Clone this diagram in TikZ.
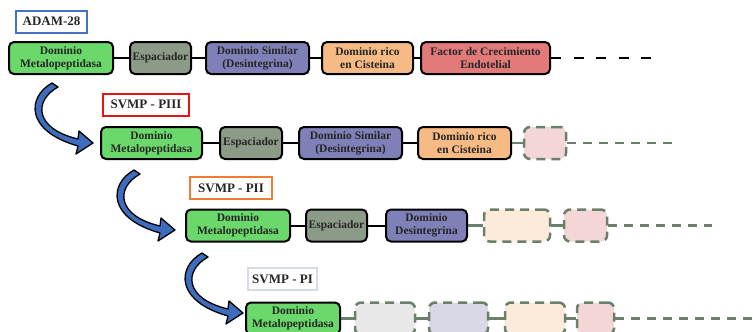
\documentclass[tikz,border=0pt]{standalone}
\usepackage{fontspec}
\setmainfont{Liberation Serif}
\usepackage{color}

\definecolor{metalo}{RGB}{106,216,106}
\definecolor{espac}{RGB}{140,155,135}
\definecolor{desint}{RGB}{128,128,184}
\definecolor{cist}{RGB}{246,186,132}
\definecolor{factor}{RGB}{226,122,122}
\definecolor{ghostline}{RGB}{107,128,107}
\definecolor{ghostpink}{RGB}{245,214,214}
\definecolor{ghostcream}{RGB}{252,235,218}
\definecolor{ghostgray}{RGB}{232,232,232}
\definecolor{ghostlav}{RGB}{216,216,230}
\definecolor{tagadam}{RGB}{68,114,196}
\definecolor{tagpiii}{RGB}{232,20,20}
\definecolor{tagpii}{RGB}{237,125,49}
\definecolor{tagpi}{RGB}{214,220,229}
\definecolor{arrowblue}{RGB}{62,108,190}

\begin{document}
\begin{tikzpicture}[x=1pt, y=-1pt]
\tikzset{dom/.style = {rectangle, rounded corners=5pt, draw=black, line width=2pt, align=center, inner sep=2pt, minimum height=32pt, font=\fontsize{11.5}{13}\selectfont\bfseries, text=black!85}}
\tikzset{ghost/.style = {rectangle, rounded corners=6pt, draw=ghostline, line width=2.5pt, dash pattern=on 9pt off 6pt, minimum height=32pt}}
\tikzset{tag/.style = {rectangle, line width=2pt, minimum height=22pt, inner sep=2pt, font=\fontsize{13}{15}\selectfont\bfseries, text=black!85}}
\tikzset{link/.style = {line width=2pt}}
\tikzset{ghostlink/.style = {line width=2.5pt, draw=ghostline}}
\tikzset{tail/.style = {line width=2.5pt, dash pattern=on 10pt off 12.5pt}}
\tikzset{ghosttail/.style = {line width=2.5pt, draw=ghostline, dash pattern=on 9pt off 7pt}}
\tikzset{curved/.style = {fill=arrowblue, draw=black, line width=1.3pt, line join=round}}

\clip (0,0) rectangle (753,332);

% ADAM-28
\node[tag, draw=tagadam, minimum width=71pt] (adam) at (51.5,21.5) {ADAM-28};
\node[dom, fill=metalo, minimum width=104pt] (r1a) at (61,58) {Dominio\\Metalopeptidasa};
\node[dom, fill=espac, minimum width=61pt] (r1b) at (160.5,58) {Espaciador};
\node[dom, fill=desint, minimum width=103pt] (r1c) at (257.5,58) {Dominio Similar\\(Desintegrina)};
\node[dom, fill=cist, minimum width=91pt] (r1d) at (367.5,58) {Dominio rico\\en Cisteina};
\node[dom, fill=factor, minimum width=129pt] (r1e) at (485.5,58) {Factor de Crecimiento\\Endotelial};
\coordinate (end1) at (660,58);

% SVMP - PIII
\node[tag, draw=tagpiii, minimum width=86pt] (piii) at (146,104.5) {SVMP - PIII};
\node[dom, fill=metalo, minimum width=101pt] (r2a) at (151.5,143) {Dominio\\Metalopeptidasa};
\node[dom, fill=espac, minimum width=62pt] (r2b) at (251,143) {Espaciador};
\node[dom, fill=desint, minimum width=103pt] (r2c) at (350.5,143) {Dominio Similar\\(Desintegrina)};
\node[dom, fill=cist, minimum width=93pt] (r2d) at (464.5,143) {Dominio rico\\en Cisteina};
\node[ghost, fill=ghostpink, minimum width=42pt] (r2e) at (545,143) {};
\coordinate (end2) at (672,143);

% SVMP - PII
\node[tag, draw=tagpii, minimum width=82pt] (pii) at (231,188) {SVMP - PII};
\node[dom, fill=metalo, minimum width=104pt] (r3a) at (238,225.5) {Dominio\\Metalopeptidasa};
\node[dom, fill=espac, minimum width=61pt] (r3b) at (336.5,225.5) {Espaciador};
\node[dom, fill=desint, minimum width=81pt] (r3c) at (426.5,225.5) {Dominio\\Desintegrina};
\node[ghost, fill=ghostcream, minimum width=66pt] (r3d) at (517,225.5) {};
\node[ghost, fill=ghostpink, minimum width=43pt] (r3e) at (585.5,225.5) {};
\coordinate (end3) at (712,225.5);

% SVMP - PI
\node[tag, draw=tagpi, minimum width=69pt] (pi) at (282.5,279) {SVMP - PI};
\node[dom, fill=metalo, minimum width=94pt] (r4a) at (293,318.5) {Dominio\\Metalopeptidasa};
\node[ghost, fill=ghostgray, minimum width=60pt] (r4b) at (385,318.5) {};
\node[ghost, fill=ghostlav, minimum width=59pt] (r4c) at (458.5,318.5) {};
\node[ghost, fill=ghostcream, minimum width=60pt] (r4d) at (535,318.5) {};
\node[ghost, fill=ghostpink, minimum width=37pt] (r4e) at (595.5,318.5) {};
\coordinate (end4) at (770,318.5);

\foreach \a/\b in {r1a/r1b, r1b/r1c, r1c/r1d, r1d/r1e, r2a/r2b, r2b/r2c, r2c/r2d, r3a/r3b, r3b/r3c}
  {\draw[link] (\a) -- (\b);}

\foreach \a/\b in {r2d/r2e, r3c/r3d, r3d/r3e, r4a/r4b, r4b/r4c, r4c/r4d, r4d/r4e}
  {\draw[ghostlink] (\a) -- (\b);}

\draw[tail] (r1e) -- (end1);
\foreach \a/\b in {r2e/end2, r3e/end3, r4e/end4}
  {\draw[ghosttail] (\a) -- (\b);}

% curved arrows between rows
\foreach \ax/\ay in {55/83, 137/170, 205/253}
  {\filldraw[curved, shift={(\ax,\ay)}] (-3,0) .. controls (-28,14) and (-30,48) .. (23,63)
     -- (21,71) -- (38,60) -- (24,48) -- (23,56) .. controls (-20,46) and (-22,18) .. (3,4) -- cycle;}

\end{tikzpicture}
\end{document}
